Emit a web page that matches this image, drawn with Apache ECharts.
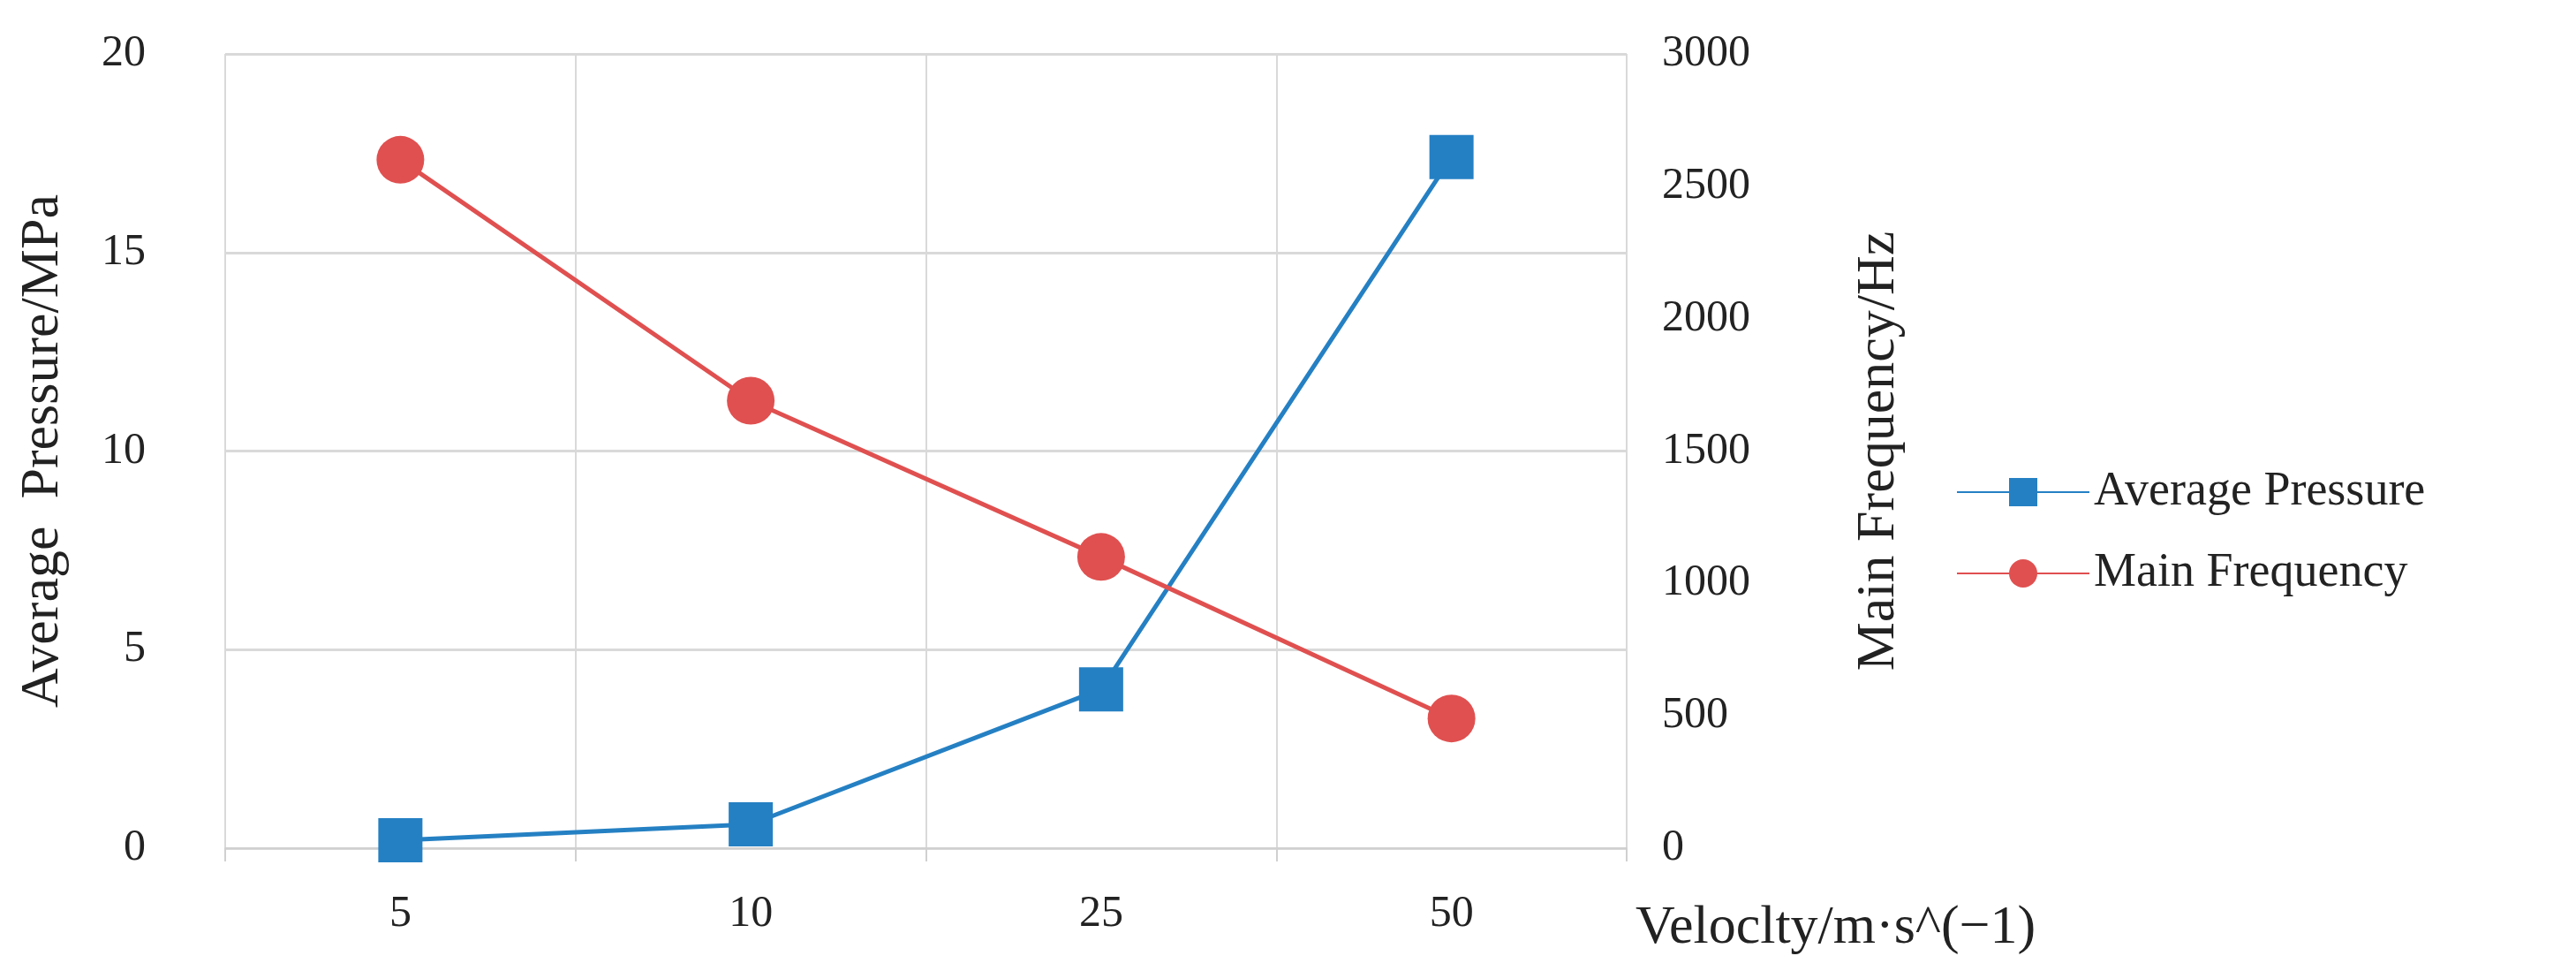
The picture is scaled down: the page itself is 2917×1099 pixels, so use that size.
<!DOCTYPE html>
<html>
<head>
<meta charset="utf-8">
<script src="https://cdn.jsdelivr.net/npm/echarts@6/dist/echarts.min.js"></script>
<style>html,body{margin:0;background:#fff}#c{width:2917px;height:1099px}</style>
</head>
<body>
<div id="c"></div>
<script>
let categories = ['5', '10', '25', '50']
let pressure = [0.2, 0.6, 4.0, 17.4]
let frequency = [2600, 1690, 1100, 490]

let font = 'Liberation Serif'
let chart = echarts.init(document.getElementById('c'))
chart.setOption({
    animation: false,
    textStyle: {fontFamily: font},
    grid: {left: 255, right: 1075, top: 61, bottom: 139},
    legend: {
        orient: 'vertical', left: 2210, top: 525, itemGap: 38,
        itemWidth: 150, itemHeight: 40,
        textStyle: {fontFamily: font, fontSize: 54, color: '#222'},
        data: ['Average Pressure', 'Main Frequency']
    },
    xAxis: {
        type: 'category', data: categories,
        name: 'Veloclty/m·s^(−1)', nameLocation: 'end', nameGap: 10,
        nameTextStyle: {fontFamily: font, fontSize: 62, color: '#222', verticalAlign: 'top', padding: [60, 0, 0, 0]},
        axisLine: {lineStyle: {color: '#d0d0d0', width: 2}},
        axisTick: {show: true, length: 15, lineStyle: {color: '#d0d0d0', width: 2}},
        axisLabel: {fontFamily: font, fontSize: 50, color: '#222', margin: 50},
        splitLine: {show: true, lineStyle: {color: '#d9d9d9', width: 2}}
    },
    yAxis: [{
        type: 'value', min: 0, max: 20, interval: 5,
        name: 'Average  Pressure/MPa', nameLocation: 'middle', nameGap: 175,
        nameTextStyle: {fontFamily: font, fontSize: 62, color: '#222'},
        axisLine: {show: false}, axisTick: {show: false},
        axisLabel: {fontFamily: font, fontSize: 50, color: '#222', margin: 90},
        splitLine: {lineStyle: {color: '#d9d9d9', width: 3}}
    }, {
        type: 'value', min: 0, max: 3000, interval: 500,
        name: 'Main Frequency/Hz', nameLocation: 'middle', nameGap: 255,
        nameTextStyle: {fontFamily: font, fontSize: 62, color: '#222'},
        axisLine: {show: false}, axisTick: {show: false},
        axisLabel: {fontFamily: font, fontSize: 50, color: '#222', margin: 40, formatter: v => String(v)},
        splitLine: {show: false}
    }],
    series: [{
        name: 'Average Pressure', type: 'line', yAxisIndex: 0, data: pressure,
        symbol: 'rect', symbolSize: 50,
        itemStyle: {color: '#2580c3'}, lineStyle: {color: '#2580c3', width: 5}
    }, {
        name: 'Main Frequency', type: 'line', yAxisIndex: 1, data: frequency,
        symbol: 'circle', symbolSize: 54,
        itemStyle: {color: '#e05050'}, lineStyle: {color: '#e05050', width: 5}
    }]
})
</script>
</body>
</html>
